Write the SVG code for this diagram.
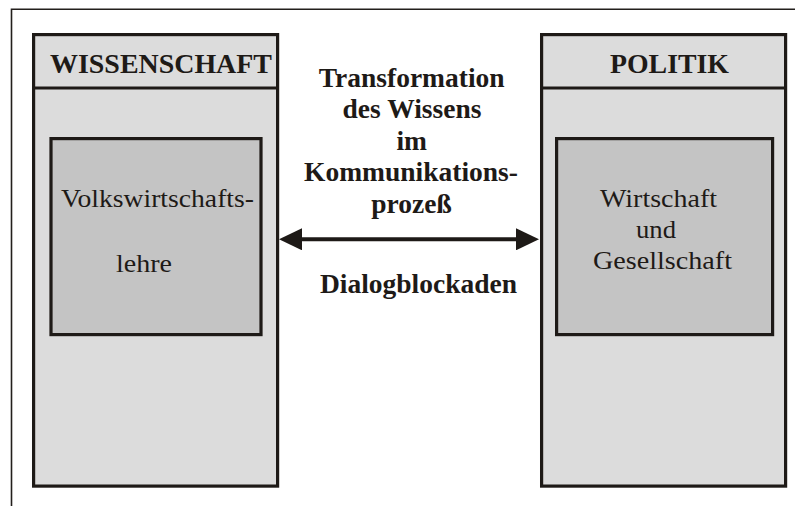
<svg xmlns="http://www.w3.org/2000/svg" width="795" height="506" viewBox="0 0 795 506">
<style>
  .frame { fill: none; stroke: #231f1c; stroke-width: 1.6; }
  .col { fill: #dcdcdc; stroke: #1e1a17; stroke-width: 3.2; }
  .inner { fill: #c4c4c4; stroke: #1e1a17; stroke-width: 3.2; }
  .div { stroke: #1e1a17; stroke-width: 3; }
  .head { font-family: "Liberation Serif", "Times New Roman", serif; font-weight: bold; font-size: 28px; fill: #1e1a17; }
  .mid { font-family: "Liberation Serif", "Times New Roman", serif; font-weight: bold; font-size: 27.5px; fill: #1e1a17; text-anchor: middle; }
  .body { font-family: "Liberation Serif", "Times New Roman", serif; font-size: 25.5px; fill: #1e1a17; }
  .conn { stroke: #1e1a17; stroke-width: 4; fill: none; }
</style>
<defs>
  <marker id="ah" viewBox="0 0 23 22" refX="12" refY="11" markerWidth="23" markerHeight="22" markerUnits="userSpaceOnUse" orient="auto-start-reverse">
    <path d="M0,0 L23,11 L0,22 z" fill="#1e1a17"/>
  </marker>
</defs>
<rect width="795" height="506" fill="#ffffff"/>
<path class="frame" d="M795,9.3 L11.5,9.3 L11.5,506"/>

<g id="wissenschaft">
  <rect class="col" x="33.6" y="34.6" width="244" height="451.5"/>
  <line class="div" x1="33" y1="88" x2="278" y2="88"/>
  <text class="head" x="50" y="73" textLength="222" lengthAdjust="spacingAndGlyphs">WISSENSCHAFT</text>
</g>
<g id="volkswirtschaftslehre">
  <rect class="inner" x="51" y="138.6" width="210" height="196"/>
  <text class="body" x="61" y="207" textLength="193" lengthAdjust="spacingAndGlyphs">Volkswirtschafts-</text>
  <text class="body" x="116" y="271.5" textLength="56" lengthAdjust="spacingAndGlyphs">lehre</text>
</g>

<g id="politik">
  <rect class="col" x="541.6" y="34.6" width="244" height="451.5"/>
  <line class="div" x1="541" y1="88" x2="786" y2="88"/>
  <text class="head" x="610" y="73" textLength="119" lengthAdjust="spacingAndGlyphs">POLITIK</text>
</g>
<g id="wirtschaft-gesellschaft">
  <rect class="inner" x="556.6" y="138.6" width="216" height="196"/>
  <text class="body" x="600" y="206.5" textLength="117" lengthAdjust="spacingAndGlyphs">Wirtschaft</text>
  <text class="body" x="636" y="238.3" textLength="40" lengthAdjust="spacingAndGlyphs">und</text>
  <text class="body" x="593" y="269.3" textLength="139" lengthAdjust="spacingAndGlyphs">Gesellschaft</text>
</g>

<g id="transformation-label">
  <text class="mid" x="411.7" y="86.7">Transformation</text>
  <text class="mid" x="412" y="118.3">des Wissens</text>
  <text class="mid" x="411.7" y="150">im</text>
  <text class="mid" x="411" y="181">Kommunikations-</text>
  <text class="mid" x="411.5" y="212.5">prozeß</text>
  <text class="mid" x="418.5" y="293.3">Dialogblockaden</text>
</g>

<g id="connectors">
  <line class="conn" x1="290" y1="239.3" x2="528" y2="239.3" marker-start="url(#ah)" marker-end="url(#ah)"/>
</g>
</svg>
